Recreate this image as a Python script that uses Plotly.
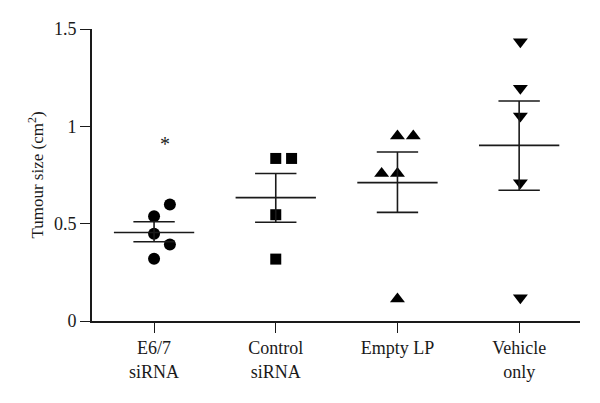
import plotly.graph_objects as go

categories = ["E6/7<br>siRNA", "Control<br>siRNA", "Empty LP", "Vehicle<br>only"]
symbols = ["circle", "square", "triangle-up", "triangle-down"]

# individual tumour sizes (cm^2) per group
e67_vals = [0.598, 0.538, 0.448, 0.393, 0.320]
ctrl_vals = [0.835, 0.835, 0.546, 0.318]
empty_vals = [0.950, 0.950, 0.758, 0.758, 0.113]
vehicle_vals = [1.435, 1.196, 1.053, 0.710, 0.120]

# horizontal jitter of points (in category units)
e67_jit = [0.13, 0.0, 0.0, 0.13, 0.0]
ctrl_jit = [0.0, 0.13, 0.0, 0.0]
empty_jit = [0.0, 0.13, -0.13, 0.0, 0.0]
vehicle_jit = [0.01, 0.01, 0.01, 0.01, 0.01]

means = [0.455, 0.634, 0.711, 0.902]
sem_hi = [0.510, 0.758, 0.868, 1.130]
sem_lo = [0.407, 0.507, 0.558, 0.672]

y_ticks = [0, 0.5, 1, 1.5]
y_ticktext = ["0", "0.5", "1", "1.5"]

groups = [e67_vals, ctrl_vals, empty_vals, vehicle_vals]
jits = [e67_jit, ctrl_jit, empty_jit, vehicle_jit]
marker_sizes = [12, 11, 13, 13]

fig = go.Figure()
FONT = "Liberation Serif"
INK = "#1a1a1a"

for i, (vals, jit, sym, ms) in enumerate(zip(groups, jits, symbols, marker_sizes)):
    fig.add_trace(go.Scatter(
        x=[i + j for j in jit], y=vals, mode="markers",
        marker=dict(symbol=sym, size=ms, color="black", line=dict(width=0)),
        showlegend=False, hoverinfo="skip"))

# mean lines
mx, my = [], []
for i, m in enumerate(means):
    mx += [i - 0.33, i + 0.33, None]
    my += [m, m, None]
fig.add_trace(go.Scatter(x=mx, y=my, mode="lines",
                         line=dict(color=INK, width=1.6),
                         showlegend=False, hoverinfo="skip"))

# SEM bars
sx, sy = [], []
for i, (lo, hi) in enumerate(zip(sem_lo, sem_hi)):
    sx += [i, i, None, i - 0.17, i + 0.17, None, i - 0.17, i + 0.17, None]
    sy += [lo, hi, None, hi, hi, None, lo, lo, None]
fig.add_trace(go.Scatter(x=sx, y=sy, mode="lines",
                         line=dict(color=INK, width=1.6),
                         showlegend=False, hoverinfo="skip"))

fig.add_annotation(x=0.09, y=0.93, text="*", showarrow=False,
                   font=dict(family=FONT, size=20, color=INK), yshift=-4)

fig.update_layout(
    width=600, height=403,
    margin=dict(l=92, r=20, t=29, b=82),
    paper_bgcolor="white", plot_bgcolor="white",
    font=dict(family=FONT, size=17, color=INK),
    hovermode=False,
    xaxis=dict(range=[-0.51, 3.5], tickvals=[0, 1, 2, 3], ticktext=categories,
               showgrid=False, zeroline=False, showline=True, linecolor=INK,
               linewidth=1.6, ticks="outside", ticklen=10, tickwidth=1.4,
               tickcolor=INK, tickfont=dict(family=FONT, size=18, color=INK),
               automargin=False),
    yaxis=dict(range=[0, 1.5], tickvals=y_ticks, ticktext=y_ticktext,
               showgrid=False, zeroline=False, showline=True, linecolor=INK,
               linewidth=1.6, ticks="outside", ticklen=10, tickwidth=1.4,
               tickcolor=INK, tickfont=dict(family=FONT, size=18, color=INK),
               automargin=False,
               title=dict(text="Tumour size (cm<sup>2</sup>)",
                          font=dict(family=FONT, size=17, color=INK), standoff=6)),
)

fig.write_html("out.html", config={"displayModeBar": False},
               post_script="document.body.style.margin='0';document.body.style.padding='0';")
